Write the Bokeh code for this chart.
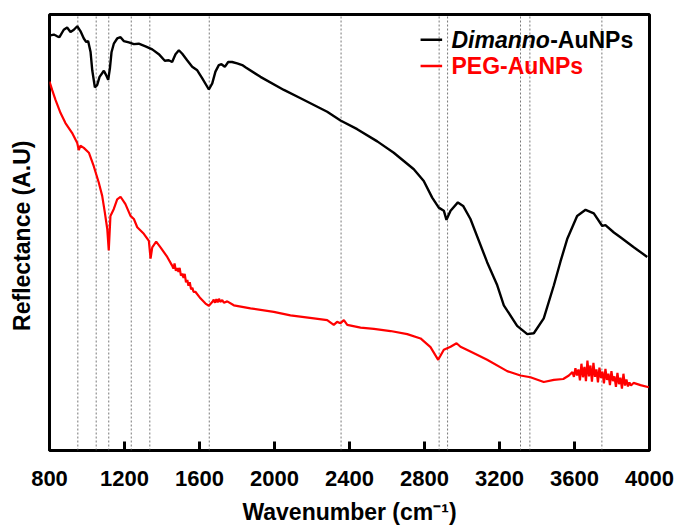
from bokeh.plotting import figure
from bokeh.models import Range1d, FixedTicker, Label
from bokeh.embed import file_html
from bokeh.resources import INLINE

# ---------------- data ----------------
dimanno_wn = [805, 823, 841, 853, 876, 894, 912, 930, 948, 965, 983, 996, 1006, 1019, 1028,
              1042, 1054, 1067, 1090, 1102, 1113, 1122, 1131, 1143, 1161, 1179, 1196, 1223,
              1250, 1276, 1312, 1348, 1383, 1415, 1436, 1454, 1472, 1490, 1508, 1534, 1561,
              1588, 1614, 1650, 1668, 1685, 1703, 1717, 1735, 1753, 1774, 1801, 1828, 1845,
              1925, 2050, 2139, 2281, 2352, 2441, 2548, 2636, 2743, 2796, 2841, 2876, 2903,
              2917, 2939, 2978, 3006, 3045, 3134, 3188, 3223, 3294, 3348, 3383, 3436, 3490,
              3525, 3561, 3614, 3659, 3703, 3748, 3765, 3810, 3845, 3916, 3988]
dimanno_r = [95.2, 95.4, 95.0, 94.8, 96.5, 97.0, 96.0, 96.5, 97.3, 96.2, 94.5, 93.7, 93.9, 91.4, 87.2,
             83.3, 83.8, 85.7, 87.1, 86.1, 85.0, 87.6, 91.4, 93.3, 94.5, 94.8, 93.9, 93.6,
             93.2, 93.3, 92.7, 92.0, 90.9, 89.4, 89.5, 89.1, 90.9, 91.8, 91.0, 89.5, 88.0,
             87.2, 85.4, 82.8, 84.2, 86.9, 88.4, 88.6, 88.0, 89.1, 89.1, 88.8, 88.4, 87.9,
             85.7, 82.7, 80.8, 77.7, 75.7, 73.7, 70.9, 68.3, 64.5, 61.8, 58.0, 55.7, 55.0,
             52.9, 55.0, 56.9, 56.1, 53.1, 43.2, 37.9, 33.3, 28.6, 26.7, 26.9, 30.3, 37.9,
             43.3, 48.5, 53.8, 55.2, 54.4, 51.5, 51.7, 50.0, 48.9, 46.6, 44.4]

peg_wn = [800, 814, 832, 859, 885, 921, 948, 956, 965, 983, 1010, 1036, 1063, 1081, 1095,
          1108, 1116, 1125, 1143, 1161, 1179, 1205, 1232, 1250, 1268, 1303, 1330, 1339,
          1348, 1369, 1392, 1428,
          1454, 1461, 1467, 1474, 1481, 1488, 1494, 1501, 1508, 1515, 1521, 1528, 1535,
          1541, 1548, 1555, 1562, 1568, 1578, 1605, 1632, 1650,
          1669, 1676, 1683, 1690, 1697, 1704, 1711, 1721, 1730, 1748,
          1783, 1872, 1996, 2085, 2210, 2281, 2316, 2334,
          2352, 2370, 2388, 2459, 2530, 2619, 2708, 2779, 2832, 2873, 2903, 2939, 2971,
          2992, 3045, 3134, 3241, 3312, 3365, 3436, 3490, 3540, 3570,
          3589, 3597, 3605, 3613, 3621, 3629, 3637, 3645, 3653, 3661, 3669, 3677,
          3685, 3693, 3701, 3709, 3717, 3725, 3733, 3741, 3749, 3757, 3765, 3773,
          3781, 3789, 3797, 3805, 3813, 3821, 3829, 3837, 3845, 3853, 3861, 3869,
          3877, 3885, 3893, 3901, 3915, 3952, 3996]
peg_r = [84.6, 82.7, 80.4, 77.4, 75.1, 72.8, 70.5, 68.9, 69.9, 69.4, 68.3, 65.2, 61.4, 58.4, 54.6,
         50.8, 45.9, 53.8, 55.4, 57.6, 58.2, 56.5, 53.8, 53.1, 51.2, 49.7, 48.1, 44.0,
         46.6, 47.9, 46.6, 44.4,
         42.4, 41.7, 42.9, 41.2, 41.8, 41.0, 41.9, 40.1, 40.6, 39.6, 40.5, 38.6, 39.1,
         37.8, 38.6, 37.0, 37.3, 36.4, 36.4, 34.9, 33.7, 33.2,
         34.1, 34.6, 33.9, 34.7, 34.0, 34.8, 34.1, 34.5, 33.9, 34.2,
         33.3, 32.6, 31.8, 31.0, 30.3, 29.9, 28.8, 29.5,
         29.2, 29.9, 28.8, 28.2, 27.9, 27.4, 26.7, 25.7, 23.7, 20.8, 23.1, 23.8, 24.6,
         23.8, 22.7, 20.8, 18.2, 17.2, 16.8, 15.7, 16.2, 16.4, 17.2,
         18.0, 16.9, 18.9, 17.2, 18.6, 16.1, 19.9, 16.8, 19.2, 15.9, 20.6, 17.0,
         19.5, 15.8, 20.1, 16.9, 18.6, 15.6, 19.0, 16.6, 18.1, 15.4, 18.7, 16.2,
         17.6, 15.0, 18.2, 15.9, 17.0, 14.6, 17.8, 15.2, 16.7, 14.2, 17.6, 14.9,
         16.3, 14.7, 15.6, 14.9, 15.5, 15.0, 14.5]

peak_lines = [951, 1049, 1116, 1236, 1335, 1652, 2355, 2878, 2923, 3312, 3362, 3746]
x_ticks = [800, 1200, 1600, 2000, 2400, 2800, 3200, 3600, 4000]

FONT = "Liberation Sans"

p = figure(width=681, height=527, output_backend="svg", toolbar_location=None,
           x_range=Range1d(800, 4000), y_range=Range1d(0, 100),
           min_border_left=49, min_border_right=32, min_border_top=14, min_border_bottom=74)
p.grid.visible = False
p.background_fill_color = "white"
p.border_fill_color = "white"
p.outline_line_color = "black"
p.outline_line_width = 3
p.outline_line_alpha = 1.0

# x axis
xa = p.xaxis[0]
xa.ticker = FixedTicker(ticks=x_ticks)
xa.axis_line_color = None
xa.major_tick_in = 9
xa.major_tick_out = 0
xa.major_tick_line_width = 3
xa.major_tick_line_color = "black"
xa.minor_tick_line_color = None
xa.major_label_text_font = FONT
xa.major_label_text_font_size = "22px"
xa.major_label_text_font_style = "bold"
xa.major_label_text_color = "black"
xa.major_label_standoff = 20
xa.axis_label = "Wavenumber (cm\u207b\u00b9)"
xa.axis_label_text_font = FONT
xa.axis_label_text_font_size = "23px"
xa.axis_label_text_font_style = "bold"
xa.axis_label_text_color = "black"
xa.axis_label_standoff = 10

# y axis (no ticks)
ya = p.yaxis[0]
ya.ticker = FixedTicker(ticks=[])
ya.axis_line_color = None
ya.major_tick_line_color = None
ya.minor_tick_line_color = None
ya.major_label_text_font_size = "0px"
ya.major_label_standoff = 0
ya.major_tick_in = 0
ya.major_tick_out = 0
ya.axis_label = "Reflectance  (A.U)"
ya.axis_label_text_font = FONT
ya.axis_label_text_font_size = "23px"
ya.axis_label_text_font_style = "bold"
ya.axis_label_text_color = "black"
ya.axis_label_standoff = 15

# dashed reference lines
p.segment(x0=peak_lines, y0=[0] * len(peak_lines), x1=peak_lines, y1=[100] * len(peak_lines),
          line_color="#555555", line_width=0.8, line_dash="2 2")

# spectra
p.line(peg_wn, peg_r, line_color="red", line_width=2.2)
p.line(dimanno_wn, dimanno_r, line_color="black", line_width=2.4)

# manual legend
p.segment(x0=[2779, 2779], y0=[94.2, 88.2], x1=[2894, 2894], y1=[94.2, 88.2],
          line_color=["black", "red"], line_width=2.4)
p.add_layout(Label(x=2944, y=94.2, text="Dimanno", text_font=FONT, text_font_size="23px",
                   text_font_style="bold italic", text_color="black", text_baseline="middle"))
p.add_layout(Label(x=3470, y=94.2, text="-AuNPs", text_font=FONT, text_font_size="23px",
                   text_font_style="bold", text_color="black", text_baseline="middle"))
p.add_layout(Label(x=2944, y=88.2, text="PEG-AuNPs", text_font=FONT, text_font_size="23px",
                   text_font_style="bold", text_color="red", text_baseline="middle"))

open("out.html", "w").write(file_html(p, INLINE))
